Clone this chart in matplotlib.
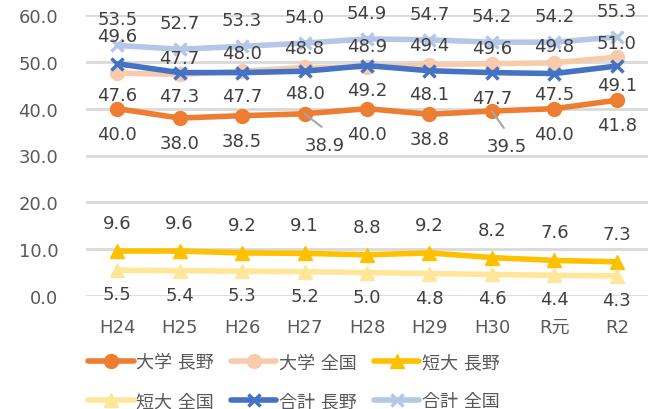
import matplotlib
matplotlib.use("Agg")
import matplotlib.pyplot as plt

plt.rcParams["font.family"] = ["DejaVu Sans", "Noto Sans CJK JP"]

# enrollment rates (%) by year
years = ["H24", "H25", "H26", "H27", "H28", "H29", "H30", "R元", "R2"]
univ_nagano = [40.0, 38.0, 38.5, 38.9, 40.0, 38.8, 39.5, 40.0, 41.8]
univ_national = [47.6, 47.3, 48.0, 48.8, 48.9, 49.4, 49.6, 49.8, 51.0]
junior_nagano = [9.6, 9.6, 9.2, 9.1, 8.8, 9.2, 8.2, 7.6, 7.3]
junior_national = [5.5, 5.4, 5.3, 5.2, 5.0, 4.8, 4.6, 4.4, 4.3]
total_nagano = [49.6, 47.7, 47.7, 48.0, 49.2, 48.1, 47.7, 47.5, 49.1]
total_national = [53.5, 52.7, 53.3, 54.0, 54.9, 54.7, 54.2, 54.2, 55.3]
series_names = ["大学 長野", "大学 全国", "短大 長野", "短大 全国", "合計 長野", "合計 全国"]

TEXT = "#404040"
AXIS_TEXT = "#595959"

# color, marker, marker size, label offsets (pixels) per point
styles = [
    ("#ED7D31", "o", 10, [-25] * 9),
    ("#F8CBAD", "o", 10, [-22, -22, 18, 19, 21, 20, 16, 17, 14]),
    ("#FFC000", "^", 10, [28] * 9),
    ("#FFE699", "^", 10, [-24] * 9),
    ("#4472C4", "x", 9, [28, 15, -23, -22, -24, -23, -25, -20, -19]),
    ("#B4C7E7", "x", 9, [26] * 9),
]
all_values = [univ_nagano, univ_national, junior_nagano, junior_national,
              total_nagano, total_national]

fig = plt.figure(figsize=(6.5, 4.1), dpi=100)
ax = fig.add_axes([86 / 650, 113 / 410, 562 / 650, 281 / 410])

x = list(range(len(years)))
handles = []
for k, (vals, name, (color, marker, ms, offs)) in enumerate(zip(all_values, series_names, styles)):
    (h,) = ax.plot(x, vals, color=color, lw=4, marker=marker, ms=ms,
                   mew=2.5 if marker == "x" else 1, mec=color, mfc=color,
                   label=name, zorder=3 + k, solid_capstyle="round")
    handles.append(h)
    for i, v in enumerate(vals):
        dx, dy = 0, offs[i]
        # two labels of the first series were pulled aside with leader lines
        if k == 0 and i == 3:
            dx, dy = 20, -31
        if k == 0 and i == 6:
            dx, dy = 15, -35
        if dx:
            ax.annotate("", xy=(i, v), xytext=(dx - 3, dy + 18), textcoords="offset pixels",
                        arrowprops=dict(arrowstyle="-", color="#A6A6A6", lw=1.5,
                                        shrinkA=0, shrinkB=0), zorder=12)
        ax.annotate(f"{v:.1f}", xy=(i, v), xytext=(dx, dy), textcoords="offset pixels",
                    ha="center", va="center", fontsize=13, color=TEXT, zorder=20)

ax.set_xlim(-0.5, len(years) - 0.5)
ax.set_ylim(0, 60)
ax.set_yticks(range(0, 61, 10))
ax.set_yticklabels([f"{t:.1f}" for t in range(0, 61, 10)])
ax.set_xticks(x)
ax.set_xticklabels(years)
ax.tick_params(axis="y", length=0, pad=20, labelsize=13, labelcolor=AXIS_TEXT)
ax.tick_params(axis="x", length=0, pad=16, labelsize=13, labelcolor=AXIS_TEXT)
ax.grid(axis="y", color="#D9D9D9", lw=2)
ax.set_axisbelow(True)
for s in ax.spines.values():
    s.set_visible(False)

# legend fills column-wise, so reorder to get the two rows right
order = [0, 3, 1, 4, 2, 5]
fig.legend([handles[i] for i in order], [series_names[i] for i in order],
           ncol=3, loc="center", bbox_to_anchor=(294 / 650, 27 / 410),
           frameon=False, fontsize=13, labelcolor=AXIS_TEXT,
           handlelength=2.5, handletextpad=0.15, columnspacing=0.95,
           labelspacing=1.15, borderpad=0)

fig.savefig("out.png", dpi=100)
